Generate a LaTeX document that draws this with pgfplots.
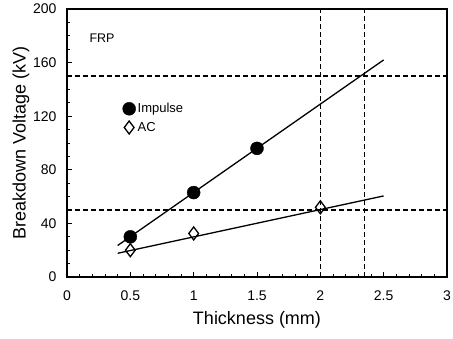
\documentclass[border=0pt]{standalone}
\usepackage{pgfplots}
\pgfplotsset{compat=1.18}
\usepackage{fontspec}
\setmainfont{Liberation Sans}
\begin{document}
\begin{tikzpicture}
\begin{axis}[
  name=ax,
  scale only axis,
  width=380pt, height=268pt,
  xmin=0, xmax=3, ymin=0, ymax=200,
  xtick={0,0.5,...,3}, ytick={0,40,...,200},
  xticklabels={0,0.5,1,1.5,2,2.5,3},
  minor x tick num=4, minor y tick num=3,
  tick pos=left, tick align=inside,
  major tick length=5pt, minor tick length=3pt,
  /pgf/number format/assume math mode=true,
  tick label style={font=\fontsize{14}{16}\selectfont},
  xticklabel style={yshift=-10pt},
  yticklabel style={xshift=-7pt},
  xlabel={Thickness (mm)}, ylabel={Breakdown Voltage (kV)},
  label style={font=\fontsize{18}{21}\selectfont},
  xlabel style={yshift=-4pt},
  ylabel style={yshift=-3pt},
  axis line style={line width=1.3pt},
  every tick/.style={black, line width=0.8pt},
  clip=false,
  legend style={draw=none, fill=none, at={(axis cs:0.43,132)}, anchor=north west,
    font=\fontsize{13}{15}\selectfont, row sep=4pt, inner sep=1pt},
  legend cell align=left,
  legend image code/.code={\draw[#1] plot coordinates {(0.14cm,0cm)};},
]
% reference dashed lines
\addplot[black, dash pattern=on 5pt off 3pt, line width=1.4pt, forget plot] coordinates {(0,150) (3,150)};
\addplot[black, dash pattern=on 5pt off 3pt, line width=1.4pt, forget plot] coordinates {(0,50) (3,50)};
\addplot[black, dash pattern=on 5pt off 3pt, line width=1.4pt, forget plot] coordinates {(2,0) (2,200)};
\addplot[black, dash pattern=on 5pt off 3pt, line width=1.4pt, forget plot] coordinates {(2.35,0) (2.35,200)};
% fitted lines
\addplot[black, line width=1.3pt, forget plot] coordinates {(0.4,23.5) (2.5,162)};
\addplot[black, line width=1.3pt, forget plot] coordinates {(0.4,17.7) (2.5,60.5)};
% data
\addplot[only marks, mark=*, mark size=6.5pt, black, fill=black] coordinates {(0.5,30) (1.0,63) (1.5,96)};
\addlegendentry{Impulse}
\addplot[only marks, mark=diamond, mark size=6.5pt, black, line width=1.3pt, fill=white] coordinates {(0.5,20) (1.0,32.5) (2.0,52)};
\addlegendentry{AC}
\node[anchor=base west, font=\fontsize{12.5}{14}\selectfont] at (axis cs:0.15,175) {FRP};
\end{axis}
\pgfresetboundingbox
\path ([xshift=-67pt,yshift=-62pt]ax.south west) rectangle ([xshift=6pt,yshift=9pt]ax.north east);
\end{tikzpicture}
\end{document}
